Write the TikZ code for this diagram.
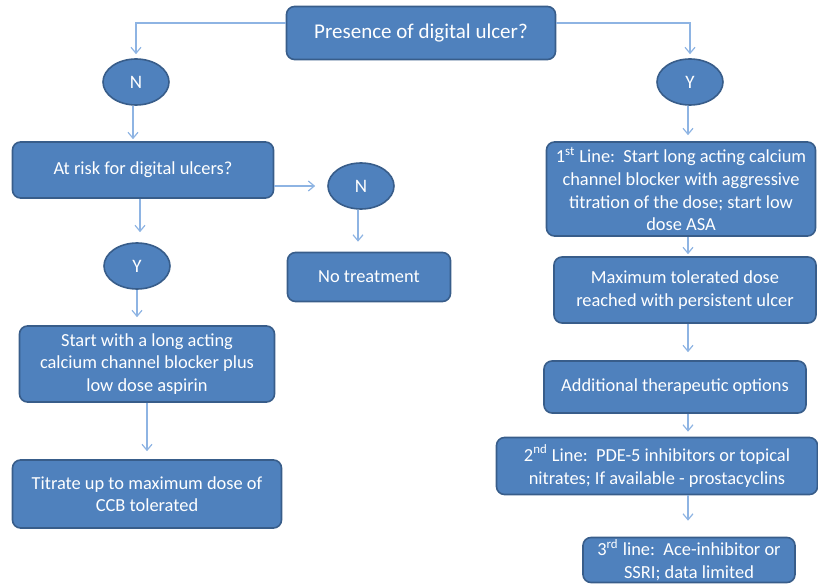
\documentclass[tikz,border=0pt]{standalone}
\usepackage{fontspec}
\setmainfont{Carlito}
\usetikzlibrary{shapes.geometric,arrows.meta}
\definecolor{boxblue}{HTML}{4F81BD}
\definecolor{edgeblue}{HTML}{385D8A}
\definecolor{lineblue}{HTML}{8EB4E3}
\begin{document}
\begin{tikzpicture}[x=0.5pt,y=-0.5pt]
  \tikzset{ bx/.style={draw=edgeblue,fill=boxblue,line width=0.8pt,rounded corners=4pt,text=white,align=center,inner sep=0pt,font=\fontsize{9.2}{11.3}\selectfont},
    ov/.style={ellipse,draw=edgeblue,fill=boxblue,line width=0.8pt,text=white,inner sep=0pt,minimum width=33pt,minimum height=23pt,font=\fontsize{9.5}{11}\selectfont},
    ar/.style={draw=lineblue,line width=0.6pt,-{Straight Barb[length=3pt,width=5pt]},shorten >=4pt},
  }
  \useasboundingbox (0,0) rectangle (818,588);
  \node[bx,minimum width=134.5pt,minimum height=26.5pt,font=\fontsize{10.5}{12}\selectfont] (q) at (421,33) {Presence of digital ulcer?};
  \node[ov] (n1) at (136,82)  {N};
  \node[ov] (y1) at (690,82)  {Y};

  % left side
  \node[bx,minimum width=130.5pt,minimum height=28pt] (risk) at (143,170) {At risk for digital ulcers?};
  \node[ov] (n2) at (361,186) {N};
  \node[ov] (y2) at (137,266) {Y};
  \node[bx,minimum width=81.5pt,minimum height=24.5pt] (none) at (369,277) {No treatment};
  \node[bx,minimum width=127.5pt,minimum height=38pt] (start) at (147,364) {Start with a long acting\\calcium channel blocker plus\\low dose aspirin};
  \node[bx,minimum width=134.5pt,minimum height=34pt] (titr) at (147,494) {Titrate up to maximum dose of\\CCB tolerated};

  % right side
  \node[bx,minimum width=134.5pt,minimum height=47pt] (l1) at (681,189) {1\textsuperscript{st} Line:\ \ Start long acting calcium\\channel blocker with aggressive\\titration of the dose; start low\\dose ASA};
  \node[bx,minimum width=131pt,minimum height=33pt] (max) at (685,290) {Maximum tolerated dose\\reached with persistent ulcer};
  \node[bx,minimum width=131pt,minimum height=26pt] (add) at (675,387) {Additional therapeutic options};
  \node[bx,minimum width=160.5pt,minimum height=28.5pt] (l2) at (657,466) {2\textsuperscript{nd} Line:\ \ PDE-5 inhibitors or topical\\nitrates; If available - prostacyclins};
  \node[bx,minimum width=106pt,minimum height=22.5pt] (l3) at (689,560) {3\textsuperscript{rd} line:\ \ Ace-inhibitor or\\SSRI; data limited};

  % the arrows between the boxes
  \draw[ar,shorten >=2pt] ([yshift=5pt]q.west) -| (n1.north);
  \draw[ar,shorten >=2pt] ([yshift=5pt]q.east) -| (y1.north);

  \draw[ar,shorten >=1pt] ([xshift=-1.5pt]n1.south) -- ([xshift=-1.5pt]n1.south |- risk.north);
  \draw[ar,shorten >=5pt] ([xshift=-1.5pt]risk.south) -- ([xshift=-1.5pt]risk.south |- y2.north);
  \draw[ar,shorten >=6pt] (risk.east |- n2) -- (n2.west);
  \draw[ar,shorten >=5pt] ([xshift=-1.5pt]n2.south) -- ([xshift=-1.5pt]n2.south |- none.north);
  \draw[ar] (y2.south) -- (y2.south |- start.north);
  \draw[ar] (start.south) -- (titr.north);

  \draw[ar,shorten >=3pt] ([xshift=-1pt]y1.south) -- ([xshift=-1pt]y1.south |- l1.north);
  \draw[ar,shorten >=1pt] ([xshift=-1pt]y1.south |- l1.south) -- ([xshift=-1pt]y1.south |- max.north);
  \draw[ar] ([xshift=-1pt]y1.south |- max.south) -- ([xshift=-1pt]y1.south |- add.north);
  \draw[ar,shorten >=2.5pt] ([xshift=-1pt]y1.south |- add.south) -- ([xshift=-1pt]y1.south |- l2.north);
  \draw[ar,shorten >=8pt] ([xshift=-1pt]y1.south |- l2.south) -- ([xshift=-1pt]y1.south |- l3.north);
\end{tikzpicture}
\end{document}
